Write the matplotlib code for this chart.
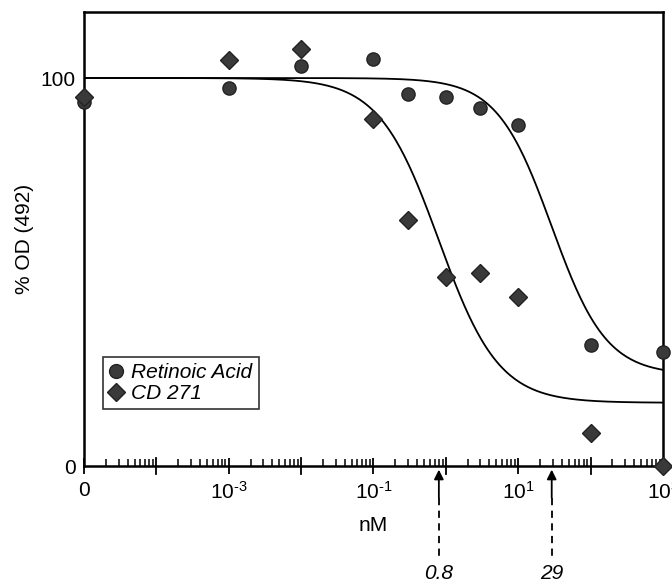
from matplotlib import pyplot as plt
from matplotlib import ticker as tk
from matplotlib import transforms as mtrans
import numpy as np

plt.rcParams['font.family'] = ['Liberation Sans', 'DejaVu Sans']
plt.rcParams['font.size'] = 15
plt.rcParams['mathtext.fontset'] = 'custom'
plt.rcParams['mathtext.rm'] = 'Liberation Sans'
plt.rcParams['mathtext.it'] = 'Liberation Sans:italic'

# doses in nM; the "0" dose is drawn at 1e-5
dose = [1e-5, 1e-3, 1e-2, 1e-1, 0.3, 1, 3, 10, 100, 1000]
ra_od = [93.8, 97.5, 103, 104.9, 95.8, 95.1, 92.2, 87.8, 31.3, 29.4]
cd_od = [95.1, 104.6, 107.5, 89.5, 63.3, 48.6, 49.8, 43.5, 8.5, 0]

# fitted dose-response parameters (top, bottom, EC50 nM, hill slope)
ra_fit = [100, 23.5, 29, 1.15]
cd_fit = [100, 16.3, 0.8, 1.05]

xtick_pos = [1e-5, 1e-3, 1e-1, 1e1, 1e3]
xtick_lab = ["0", "10$^{\u20103}$", "10$^{\u20101}$", "10$^{1}$", "10$^{3}$"]
decade_nolab = [1e-4, 1e-2, 1e0, 1e2]

def hill(x, p):
    top, bot, ec50, n = p
    return bot + (top - bot) / (1 + (x / ec50) ** n)

fig = plt.figure(figsize=(6.72, 5.82), dpi=100)
ax = fig.add_axes([0.125, 0.1993, 0.8616, 0.78])

xx = np.logspace(-5, 3, 400)
ax.plot(xx, hill(xx, ra_fit), color="black", lw=1.3)
ax.plot(xx, hill(xx, cd_fit), color="black", lw=1.3)

ax.plot(dose, ra_od, "o", ms=9.5, color="#3a3a3a", mec="#222222",
        clip_on=False, zorder=4, label="Retinoic Acid")
ax.plot(dose, cd_od, "D", ms=9, color="#3a3a3a", mec="#222222",
        clip_on=False, zorder=4, label="CD 271")

ax.set_xscale("log")
ax.set_xlim(1e-5, 1e3)
ax.set_ylim(0, 117)
ax.xaxis.set_minor_locator(tk.LogLocator(base=10, subs=np.arange(2, 10), numticks=50))
ax.set_xticks(xtick_pos, labels=xtick_lab)
ax.tick_params(axis="x", which="major", direction="inout", length=11, width=1.3, pad=5.5)
ax.tick_params(axis="x", which="minor", direction="in", length=5, width=1.1, labelbottom=False)
ax.set_yticks([0, 100])
ax.tick_params(axis="y", direction="in", length=0, pad=6)
for s in ax.spines.values():
    s.set_linewidth(1.8)

trans = mtrans.blended_transform_factory(ax.transData, ax.transAxes)

# decade ticks without labels
for d in decade_nolab:
    ax.plot([d, d], [-0.017, 0.017], color="black", lw=1.3,
            transform=trans, clip_on=False)

ax.set_xlabel("nM", labelpad=9)
ax.set_ylabel("% OD (492)", labelpad=5)

for p, lab in [(cd_fit, "0.8"), (ra_fit, "29")]:
    ec = p[2]
    ax.annotate("", xy=(ec, -0.008), xytext=(ec, -0.07), xycoords=trans,
                textcoords=trans,
                arrowprops=dict(arrowstyle="-|>", color="black", lw=1.3,
                                mutation_scale=14, shrinkA=0, shrinkB=0))
    ax.plot([ec, ec], [-0.07, -0.205], color="black", lw=1.3, ls=(0, (4, 3)),
            transform=trans, clip_on=False)
    ax.text(ec, -0.215, lab, transform=trans, ha="center", va="top",
            style="italic", fontsize=15)

leg = ax.legend(loc="lower left", bbox_to_anchor=(0.033, 0.125), frameon=True,
                fancybox=False, edgecolor="black", handlelength=0.6,
                handletextpad=0.45, borderpad=0.3, labelspacing=0.1,
                borderaxespad=0, markerscale=1.05,
                prop={"style": "italic", "size": 15})
leg.get_frame().set_linewidth(1.2)

plt.savefig("out.png", dpi=100)
